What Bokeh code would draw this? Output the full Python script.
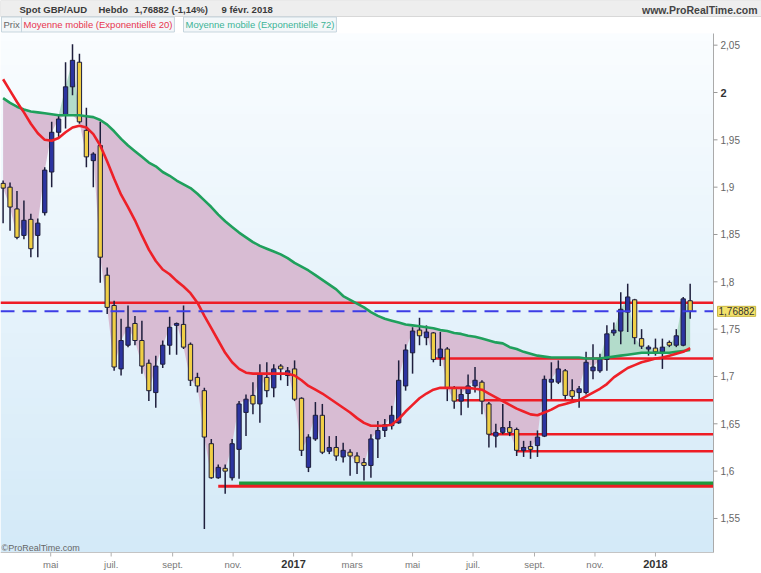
import numpy as np
import pandas as pd
from bokeh.core.properties import value
from bokeh.models import BoxAnnotation, ColumnDataSource, Label
from bokeh.plotting import figure
from bokeh.embed import file_html
from bokeh.resources import INLINE

# weekly bars, Spot GBP/AUD, first bar week of 14 March 2016
first_week = "2016-03-14"

opens = [1.904, 1.900, 1.877, 1.849, 1.866, 1.849, 1.873, 1.916, 1.958, 1.976,
         2.006, 2.032, 1.960, 1.928, 1.944, 1.807, 1.775, 1.708, 1.733, 1.756,
         1.738, 1.714, 1.683, 1.713, 1.733, 1.754, 1.755, 1.734, 1.699, 1.685,
         1.629, 1.593, 1.603, 1.593, 1.623, 1.662, 1.680, 1.671, 1.699, 1.688,
         1.711, 1.701, 1.708, 1.677, 1.604, 1.634, 1.659, 1.621, 1.625, 1.615,
         1.620, 1.616, 1.609, 1.606, 1.634, 1.643, 1.648, 1.651, 1.690, 1.725,
         1.749, 1.741, 1.746, 1.720, 1.729, 1.688, 1.674, 1.682, 1.690, 1.694,
         1.671, 1.637, 1.641, 1.646, 1.644, 1.622, 1.626, 1.627, 1.637, 1.694,
         1.694, 1.706, 1.685, 1.683, 1.683, 1.706, 1.706, 1.718, 1.746, 1.748,
         1.768, 1.781, 1.740, 1.729, 1.730, 1.726, 1.736, 1.733, 1.733, 1.780]

highs = [1.907, 1.905, 1.896, 1.886, 1.872, 1.867, 1.921, 1.969, 1.976, 2.032,
         2.051, 2.041, 1.984, 1.937, 1.969, 1.815, 1.780, 1.761, 1.775, 1.764,
         1.759, 1.718, 1.722, 1.738, 1.763, 1.757, 1.775, 1.736, 1.704, 1.688,
         1.634, 1.607, 1.607, 1.634, 1.674, 1.681, 1.694, 1.713, 1.715, 1.713,
         1.713, 1.710, 1.717, 1.678, 1.639, 1.673, 1.671, 1.637, 1.637, 1.630,
         1.623, 1.620, 1.614, 1.639, 1.653, 1.655, 1.669, 1.717, 1.734, 1.752,
         1.762, 1.754, 1.747, 1.747, 1.731, 1.690, 1.688, 1.702, 1.710, 1.696,
         1.673, 1.650, 1.671, 1.653, 1.646, 1.632, 1.632, 1.643, 1.701, 1.715,
         1.717, 1.708, 1.697, 1.690, 1.726, 1.734, 1.724, 1.754, 1.757, 1.789,
         1.798, 1.782, 1.750, 1.733, 1.740, 1.740, 1.738, 1.750, 1.784, 1.798]

lows = [1.862, 1.854, 1.845, 1.845, 1.826, 1.826, 1.870, 1.900, 1.953, 1.962,
        1.997, 1.967, 1.921, 1.900, 1.799, 1.766, 1.706, 1.701, 1.731, 1.733,
        1.703, 1.674, 1.667, 1.709, 1.723, 1.723, 1.729, 1.690, 1.683, 1.539,
        1.592, 1.592, 1.576, 1.590, 1.592, 1.637, 1.660, 1.651, 1.678, 1.678,
        1.696, 1.690, 1.674, 1.616, 1.599, 1.632, 1.618, 1.618, 1.611, 1.609,
        1.595, 1.597, 1.590, 1.593, 1.614, 1.636, 1.644, 1.650, 1.685, 1.703,
        1.733, 1.733, 1.715, 1.711, 1.674, 1.666, 1.659, 1.667, 1.683, 1.660,
        1.625, 1.625, 1.639, 1.637, 1.616, 1.615, 1.613, 1.615, 1.636, 1.676,
        1.692, 1.676, 1.676, 1.667, 1.681, 1.697, 1.704, 1.706, 1.743, 1.734,
        1.747, 1.734, 1.729, 1.722, 1.722, 1.708, 1.731, 1.731, 1.732, 1.761]

closes = [1.899, 1.879, 1.847, 1.865, 1.835, 1.862, 1.918, 1.958, 1.972, 2.006,
          2.034, 1.969, 1.932, 1.935, 1.826, 1.773, 1.710, 1.738, 1.752, 1.738,
          1.711, 1.685, 1.711, 1.733, 1.752, 1.756, 1.731, 1.696, 1.690, 1.636,
          1.593, 1.604, 1.600, 1.629, 1.671, 1.676, 1.671, 1.703, 1.685, 1.708,
          1.708, 1.706, 1.676, 1.622, 1.636, 1.659, 1.620, 1.625, 1.616, 1.622,
          1.616, 1.609, 1.606, 1.634, 1.643, 1.649, 1.659, 1.696, 1.728, 1.748,
          1.743, 1.747, 1.718, 1.729, 1.688, 1.674, 1.681, 1.690, 1.696, 1.674,
          1.639, 1.641, 1.646, 1.641, 1.622, 1.625, 1.623, 1.636, 1.697, 1.697,
          1.708, 1.680, 1.679, 1.687, 1.715, 1.710, 1.718, 1.745, 1.749, 1.771,
          1.784, 1.741, 1.732, 1.731, 1.726, 1.731, 1.733, 1.743, 1.782, 1.76882]

# moving averages
ema20 = [2.014, 2.002, 1.990, 1.979, 1.967, 1.957, 1.950, 1.949, 1.952, 1.958,
         1.963, 1.965, 1.963, 1.956, 1.944, 1.927, 1.909, 1.892, 1.879, 1.865,
         1.849, 1.834, 1.822, 1.813, 1.808, 1.801, 1.795, 1.788, 1.778, 1.764,
         1.751, 1.738, 1.725, 1.715, 1.708, 1.704, 1.703, 1.703, 1.703, 1.703,
         1.703, 1.703, 1.701, 1.696, 1.690, 1.686, 1.682, 1.677, 1.672, 1.667,
         1.662, 1.656, 1.651, 1.648, 1.648, 1.648, 1.649, 1.655, 1.663, 1.670,
         1.677, 1.682, 1.686, 1.688, 1.688, 1.688, 1.688, 1.688, 1.687, 1.686,
         1.682, 1.678, 1.674, 1.670, 1.666, 1.663, 1.660, 1.659, 1.662, 1.665,
         1.669, 1.671, 1.673, 1.675, 1.679, 1.683, 1.687, 1.692, 1.699, 1.704,
         1.709, 1.712, 1.715, 1.717, 1.719, 1.720, 1.722, 1.724, 1.726, 1.730]

ema72 = [1.994, 1.989, 1.985, 1.982, 1.980, 1.979, 1.978, 1.977, 1.976, 1.976,
         1.976, 1.976, 1.975, 1.974, 1.971, 1.966, 1.959, 1.951, 1.944, 1.938,
         1.932, 1.926, 1.922, 1.916, 1.912, 1.907, 1.903, 1.899, 1.893, 1.886,
         1.879, 1.871, 1.864, 1.858, 1.852, 1.847, 1.842, 1.838, 1.835, 1.832,
         1.829, 1.825, 1.820, 1.816, 1.812, 1.807, 1.802, 1.797, 1.792, 1.785,
         1.781, 1.777, 1.773, 1.768, 1.764, 1.761, 1.759, 1.757, 1.755, 1.754,
         1.753, 1.752, 1.751, 1.749, 1.748, 1.746, 1.745, 1.743, 1.742, 1.740,
         1.738, 1.736, 1.735, 1.731, 1.729, 1.726, 1.724, 1.722, 1.721, 1.720,
         1.720, 1.720, 1.720, 1.720, 1.719, 1.719, 1.719, 1.720, 1.721, 1.722,
         1.723, 1.724, 1.725, 1.725, 1.725, 1.725, 1.725, 1.726, 1.727, 1.728]

# support / resistance lines: level and the bar they start from (-1 = left edge)
level_values = [1.778, 1.719, 1.675, 1.639, 1.621, 1.587, 1.584]
level_start = [-1, 62, 65, 70, 74, 34, 31]
level_colors = ["#ee1c25", "#ee1c25", "#ee1c25", "#ee1c25", "#ee1c25", "#1e9a3c", "#ee1c25"]
level_widths = [2.5, 2.5, 2.5, 2.5, 2.5, 4, 3]

last_price = 1.76882

month_starts = ["2016-05-01", "2016-07-01", "2016-09-01", "2016-11-01", "2017-01-01",
                "2017-03-01", "2017-05-01", "2017-07-01", "2017-09-01", "2017-11-01",
                "2018-01-01"]
month_labels = ["mai", "juil.", "sept.", "nov.", "2017", "mars", "mai", "juil.",
                "sept.", "nov.", "2018"]

price_ticks = [1.55, 1.6, 1.65, 1.7, 1.75, 1.8, 1.85, 1.9, 1.95, 2.0, 2.05]
price_labels = ["1,55", "1,6", "1,65", "1,7", "1,75", "1,8", "1,85", "1,9", "1,95", "2", "2,05"]

FONT = "Liberation Sans"

n = len(closes)
idx = np.arange(n)
start = pd.Timestamp(first_week)
tick_pos = [(pd.Timestamp(m) - start).days / 7 for m in month_starts]

# the canvas holds header, price area (x 0..713, y 33..552) and axes
W, H = 761, 573
XPP = 1 / 6.94          # weeks per pixel
YPP = 0.05 / 47.33      # price per pixel
X0 = -2.6 * XPP
X1 = X0 + 713 * XPP
Y1 = 2.0 + 59 * YPP
Y0 = Y1 - 519 * YPP


def px(page_x):
    return X0 + page_x * XPP


def py(page_y):
    return Y1 - (page_y - 33) * YPP


p = figure(frame_width=W, frame_height=H, x_range=(px(0), px(W)), y_range=(py(H), py(0)),
           x_axis_location=None, y_axis_location=None, output_backend="svg",
           toolbar_location=None, min_border=0)
p.grid.visible = False
p.outline_line_color = None
p.background_fill_color = "white"
p.border_fill_color = "white"

# light blue gradient behind the price area
rows = 64
t = np.linspace(0, 1, rows)
top = np.array([250, 253, 255])
bottom = np.array([212, 234, 248])
img = np.zeros((rows, 1), dtype=np.uint32)
view = img.view(dtype=np.uint8).reshape((rows, 1, 4))
for r in range(rows):
    c = bottom + (top - bottom) * t[r]
    view[r, 0, :3] = c.astype(np.uint8)
    view[r, 0, 3] = 255
p.image_rgba(image=[img], x=X0, y=Y0, dw=X1 - X0, dh=Y1 - Y0)

# fill between price and the 72 EMA
closes_a = np.array(closes)
ema72_a = np.array(ema72)
p.varea(x=idx, y1=ema72_a, y2=np.minimum(closes_a, ema72_a), fill_color="#d8bcd3")
p.varea(x=idx, y1=ema72_a, y2=np.maximum(closes_a, ema72_a), fill_color="#b3dccb")

# levels
lv = ColumnDataSource(dict(x0=[X0 if s < 0 else s for s in level_start],
                           x1=[X1] * len(level_values), y=level_values,
                           color=level_colors, w=level_widths))
p.segment(x0="x0", y0="y", x1="x1", y1="y", line_color="color", line_width="w", source=lv)

# candles
up = [c >= o for o, c in zip(opens, closes)]
cs = ColumnDataSource(dict(
    x=idx, high=highs, low=lows,
    top=[max(o, c) for o, c in zip(opens, closes)],
    bottom=[min(o, c) for o, c in zip(opens, closes)],
    color=["#2c34a0" if u else "#f0cf45" for u in up],
))
p.segment(x0="x", y0="low", x1="x", y1="high", line_color="#1e1e3c", line_width=1.5, source=cs)
p.vbar(x="x", top="top", bottom="bottom", width=0.62, fill_color="color",
       line_color="#1e1e3c", line_width=1, source=cs)

p.line(idx, ema72, line_color="#1fa05c", line_width=2.6)
p.line(idx, ema20, line_color="#ee2028", line_width=2.6)

p.segment(x0=[X0], y0=[last_price], x1=[X1], y1=[last_price], line_color="#3c3ce6",
          line_width=2, line_dash="14 8")

# bottom axis (dates)
p.segment(x0=[X0], y0=[Y0], x1=[X1], y1=[Y0], line_color="#c4c4c4", line_width=1)
p.segment(x0=tick_pos, y0=[Y0] * len(tick_pos), x1=tick_pos, y1=[Y0 - 4 * YPP] * len(tick_pos),
          line_color="#b0b0b0", line_width=1)
months = [(tp, lab) for tp, lab in zip(tick_pos, month_labels) if not lab.isdigit()]
years = [(tp, lab) for tp, lab in zip(tick_pos, month_labels) if lab.isdigit()]
p.text(x=[m[0] for m in months], y=[py(564)] * len(months), text=[m[1] for m in months],
       text_align="center", text_baseline="middle", text_font=value(FONT),
       text_font_size="9.5px", text_color="#777777")
p.text(x=[m[0] for m in years], y=[py(563)] * len(years), text=[m[1] for m in years],
       text_align="center", text_baseline="middle", text_font=value(FONT),
       text_font_size="11px", text_font_style="bold", text_color="#333333")

# right axis (price)
p.segment(x0=[X1], y0=[Y0], x1=[X1], y1=[Y1], line_color="#aaaaaa", line_width=1)
p.segment(x0=[X1] * len(price_ticks), y0=price_ticks, x1=[X1 + 4 * XPP] * len(price_ticks),
          y1=price_ticks, line_color="#999999", line_width=1)
normal = [(v, lab) for v, lab in zip(price_ticks, price_labels) if lab != "2"]
bold = [(v, lab) for v, lab in zip(price_ticks, price_labels) if lab == "2"]
p.text(x=[X1 + 7 * XPP] * len(normal), y=[v for v, _ in normal], text=[lab for _, lab in normal],
       text_baseline="middle", text_font=value(FONT), text_font_size="10px",
       text_color="#666666")
p.text(x=[X1 + 7 * XPP] * len(bold), y=[v for v, _ in bold], text=[lab for _, lab in bold],
       text_baseline="middle", text_font=value(FONT), text_font_size="11px",
       text_font_style="bold", text_color="#333333")

p.add_layout(Label(x=px(717), y=last_price, text="1,76882", text_baseline="middle",
                   text_font=FONT, text_font_size="10px", text_color="#333333",
                   background_fill_color="#f3e26b", border_line_color="#c9b640", padding=1))

# header band
p.add_layout(BoxAnnotation(top=py(0), bottom=py(16), fill_color="#eeeeee", fill_alpha=1,
                           line_color="#d8d8d8", line_alpha=1, level="underlay"))
header = [("Spot GBP/AUD", 19), ("Hebdo", 98), ("1,76882 (-1,14%)", 134), ("9 févr. 2018", 221)]
for txt, x_ in header:
    p.add_layout(Label(x=px(x_), y=py(9), text=txt, text_baseline="middle", text_font=FONT,
                       text_font_size="9.5px", text_font_style="bold", text_color="#3a3a3a"))
p.add_layout(Label(x=px(757), y=py(9), text="www.ProRealTime.com", text_align="right",
                   text_baseline="middle", text_font=FONT, text_font_size="10.5px",
                   text_font_style="bold", text_color="#444444"))

legend_items = [("Prix", 1, "#666666"),
                ("Moyenne mobile (Exponentielle 20)", 21, "#e8344e"),
                ("Moyenne mobile (Exponentielle 72)", 183, "#3cb496")]
for txt, x_, col in legend_items:
    p.add_layout(Label(x=px(x_), y=py(24), text=txt, text_baseline="middle", text_font=FONT,
                       text_font_size="9.5px", text_color=col, background_fill_color="#f3f7f9",
                       border_line_color="#c5d5de", padding=2))

p.add_layout(Label(x=px(1), y=py(547), text="©ProRealTime.com", text_baseline="middle",
                   text_font=FONT, text_font_size="9px", text_color="#666666"))

open("out.html", "w").write(file_html(p, INLINE))
